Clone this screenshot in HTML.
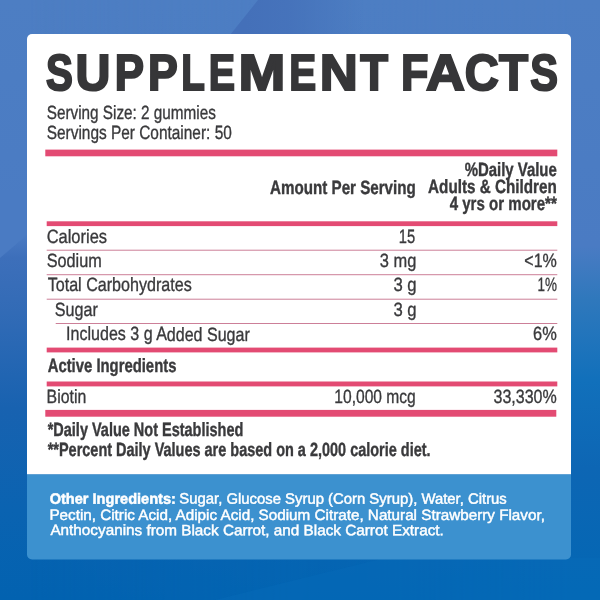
<!DOCTYPE html>
<html lang="en"><head><meta charset="utf-8"><title>Supplement Facts</title>
<style>
html,body{margin:0;padding:0;width:600px;height:600px;overflow:hidden;background:#2a6cbd}
svg{display:block;font-family:"Liberation Sans", Arial, sans-serif;text-rendering:geometricPrecision}
</style></head><body>
<svg width="600" height="600" viewBox="0 0 600 600">
<defs>
<linearGradient id="bgL" x1="0" y1="0" x2="0" y2="1">
<stop offset="0" stop-color="#4d7ec3"/><stop offset="0.39" stop-color="#4a7bc3"/><stop offset="0.43" stop-color="#3d6fba"/><stop offset="0.52" stop-color="#326bb6"/><stop offset="0.68" stop-color="#1862b0"/><stop offset="0.85" stop-color="#0a63b1"/><stop offset="1" stop-color="#0262b0"/>
</linearGradient>
<linearGradient id="bgR" x1="0" y1="0" x2="0" y2="1">
<stop offset="0" stop-color="#4d7ec3"/><stop offset="0.41" stop-color="#4a7bc3"/><stop offset="0.5" stop-color="#2f78bc"/><stop offset="0.635" stop-color="#1170bb"/><stop offset="0.78" stop-color="#0d66b4"/><stop offset="1" stop-color="#0267b4"/>
</linearGradient>
<linearGradient id="tp" gradientUnits="userSpaceOnUse" x1="245" y1="0" x2="365" y2="0"><stop offset="0" stop-color="#4470b9" stop-opacity="1"/><stop offset="0.4" stop-color="#4470b9" stop-opacity="0.75"/><stop offset="1" stop-color="#4470b9" stop-opacity="0"/></linearGradient>
<linearGradient id="mh" x1="0" y1="0" x2="1" y2="0"><stop offset="0.05" stop-color="#000"/><stop offset="0.95" stop-color="#fff"/></linearGradient>
<mask id="mr"><rect width="600" height="600" fill="url(#mh)"/></mask>
</defs>
<rect width="600" height="600" fill="url(#bgL)"/><rect width="600" height="600" fill="url(#bgR)" mask="url(#mr)"/>
<path d="M0 190H60V207L0 258z" fill="#4a7bc3"/><path d="M258 0L230 35H365L393 0z" fill="url(#tp)"/><path d="M215 600L385 558H600V600z" fill="#0a6cba" opacity="0.35"/>
<path d="M32 34H566a5 5 0 0 1 5 5V474.5H27V39a5 5 0 0 1 5-5z" fill="#fff"/>
<path d="M27 474.5H571V554.5a5 5 0 0 1-5 5H32a5 5 0 0 1-5-5z" fill="#3c91cf"/>
<rect x="45.3" y="149.6" width="512.0" height="6.7" fill="#e34b73"/>
<rect x="46.7" y="221.3" width="510.6" height="4.8" fill="#e34b73"/>
<rect x="46.7" y="347.6" width="510.6" height="4.8" fill="#e34b73"/>
<rect x="46.7" y="381.5" width="510.6" height="4.9" fill="#e34b73"/>
<rect x="45.3" y="409.9" width="511.0" height="6.8" fill="#e34b73"/>
<rect x="46.7" y="249.7" width="510.6" height="1" fill="#cc7f98"/>
<rect x="46.7" y="274.2" width="510.6" height="1" fill="#cc7f98"/>
<rect x="46.7" y="298.7" width="510.6" height="1" fill="#cc7f98"/>
<rect x="55.7" y="323.0" width="501.6" height="1" fill="#cc7f98"/>
<text x="46.70" y="119" font-size="19.2" fill="#3a3a3c" textLength="169.24" lengthAdjust="spacingAndGlyphs" transform="rotate(0.03 132 119)" stroke="#3a3a3c" stroke-width="0.35">Serving Size: 2 gummies</text>
<text x="46.70" y="138.8" font-size="19.2" fill="#3a3a3c" textLength="185.10" lengthAdjust="spacingAndGlyphs" transform="rotate(0.03 140 138.8)" stroke="#3a3a3c" stroke-width="0.35">Servings Per Container: 50</text>
<text x="270.10" y="194" font-size="19.2" fill="#3a3a3c" textLength="145.65" lengthAdjust="spacingAndGlyphs" transform="rotate(0.03 343 194)" font-weight="700" stroke="#3a3a3c" stroke-width="0.4">Amount Per Serving</text>
<text x="464.70" y="176.2" font-size="19.2" fill="#3a3a3c" textLength="92.09" lengthAdjust="spacingAndGlyphs" transform="rotate(0.03 511 176.2)" font-weight="700" stroke="#3a3a3c" stroke-width="0.4">%Daily Value</text>
<text x="428.10" y="193.4" font-size="19.2" fill="#3a3a3c" textLength="128.70" lengthAdjust="spacingAndGlyphs" transform="rotate(0.03 493 193.4)" font-weight="700" stroke="#3a3a3c" stroke-width="0.4">Adults &amp; Children</text>
<text x="449.70" y="210.3" font-size="19.2" fill="#3a3a3c" textLength="107.10" lengthAdjust="spacingAndGlyphs" transform="rotate(0.03 503 210.3)" font-weight="700" stroke="#3a3a3c" stroke-width="0.4">4 yrs or more**</text>
<text x="46.63" y="242.8" font-size="19.2" fill="#3a3a3c" textLength="60.42" lengthAdjust="spacingAndGlyphs" transform="rotate(0.03 77 242.8)" stroke="#3a3a3c" stroke-width="0.35">Calories</text>
<text x="46.66" y="266.9" font-size="19.2" fill="#3a3a3c" textLength="55.10" lengthAdjust="spacingAndGlyphs" transform="rotate(0.03 75 266.9)" stroke="#3a3a3c" stroke-width="0.35">Sodium</text>
<text x="47.70" y="291.3" font-size="19.2" fill="#3a3a3c" textLength="144.04" lengthAdjust="spacingAndGlyphs" transform="rotate(0.03 120 291.3)" stroke="#3a3a3c" stroke-width="0.35">Total Carbohydrates</text>
<text x="54.82" y="315.8" font-size="19.2" fill="#3a3a3c" textLength="42.99" lengthAdjust="spacingAndGlyphs" transform="rotate(0.03 77 315.8)" stroke="#3a3a3c" stroke-width="0.35">Sugar</text>
<text x="66.10" y="340.5" font-size="19.2" fill="#3a3a3c" textLength="183.70" lengthAdjust="spacingAndGlyphs" transform="rotate(0.03 158 340.5)" stroke="#3a3a3c" stroke-width="0.35">Includes 3 g Added Sugar</text>
<text x="398.78" y="242.8" font-size="19.2" fill="#3a3a3c" textLength="16.36" lengthAdjust="spacingAndGlyphs" transform="rotate(0.03 408 242.8)" stroke="#3a3a3c" stroke-width="0.35">15</text>
<text x="379.86" y="266.9" font-size="19.2" fill="#3a3a3c" textLength="36.57" lengthAdjust="spacingAndGlyphs" transform="rotate(0.03 398 266.9)" stroke="#3a3a3c" stroke-width="0.35">3 mg</text>
<text x="393.40" y="291.3" font-size="19.2" fill="#3a3a3c" textLength="23.25" lengthAdjust="spacingAndGlyphs" transform="rotate(0.03 405 291.3)" stroke="#3a3a3c" stroke-width="0.35">3 g</text>
<text x="393.40" y="315.8" font-size="19.2" fill="#3a3a3c" textLength="23.25" lengthAdjust="spacingAndGlyphs" transform="rotate(0.03 405 315.8)" stroke="#3a3a3c" stroke-width="0.35">3 g</text>
<text x="524.26" y="266.9" font-size="19.2" fill="#3a3a3c" textLength="32.58" lengthAdjust="spacingAndGlyphs" transform="rotate(0.03 541 266.9)" stroke="#3a3a3c" stroke-width="0.35">&lt;1%</text>
<text x="537.44" y="291.3" font-size="19.2" fill="#3a3a3c" textLength="19.41" lengthAdjust="spacingAndGlyphs" transform="rotate(0.03 547 291.3)" stroke="#3a3a3c" stroke-width="0.35">1%</text>
<text x="533.10" y="340.5" font-size="19.2" fill="#3a3a3c" textLength="23.69" lengthAdjust="spacingAndGlyphs" transform="rotate(0.03 545 340.5)" stroke="#3a3a3c" stroke-width="0.35">6%</text>
<text x="47.69" y="371.7" font-size="19.2" fill="#3a3a3c" textLength="128.72" lengthAdjust="spacingAndGlyphs" transform="rotate(0.03 112 371.7)" font-weight="700" stroke="#3a3a3c" stroke-width="0.4">Active Ingredients</text>
<text x="46.58" y="403" font-size="19.2" fill="#3a3a3c" textLength="39.66" lengthAdjust="spacingAndGlyphs" transform="rotate(0.03 67 403)" stroke="#3a3a3c" stroke-width="0.35">Biotin</text>
<text x="334.32" y="403" font-size="19.2" fill="#3a3a3c" textLength="81.46" lengthAdjust="spacingAndGlyphs" transform="rotate(0.03 375 403)" stroke="#3a3a3c" stroke-width="0.35">10,000 mcg</text>
<text x="493.53" y="403" font-size="19.2" fill="#3a3a3c" textLength="63.19" lengthAdjust="spacingAndGlyphs" transform="rotate(0.03 525 403)" stroke="#3a3a3c" stroke-width="0.35">33,330%</text>
<text x="47.70" y="436.2" font-size="19.2" fill="#3a3a3c" textLength="195.60" lengthAdjust="spacingAndGlyphs" transform="rotate(0.03 145 436.2)" font-weight="700" stroke="#3a3a3c" stroke-width="0.4">*Daily Value Not Established</text>
<text x="47.70" y="456.2" font-size="19.2" fill="#3a3a3c" textLength="382.90" lengthAdjust="spacingAndGlyphs" transform="rotate(0.03 239 456.2)" font-weight="700" stroke="#3a3a3c" stroke-width="0.4">**Percent Daily Values are based on a 2,000 calorie diet.</text>
<text x="49.70" y="503.7" font-size="15" fill="#fff" textLength="126.19" lengthAdjust="spacingAndGlyphs" transform="rotate(0.03 112 503.7)" font-weight="700" stroke="#fff" stroke-width="0.5">Other Ingredients:</text>
<text x="179.30" y="503.7" font-size="15" fill="#fff" textLength="327.50" lengthAdjust="spacingAndGlyphs" transform="rotate(0.03 343 503.7)" stroke="#fff" stroke-width="0.45">Sugar, Glucose Syrup (Corn Syrup), Water, Citrus</text>
<text x="49.40" y="520" font-size="15" fill="#fff" textLength="495.50" lengthAdjust="spacingAndGlyphs" transform="rotate(0.03 297 520)" stroke="#fff" stroke-width="0.45">Pectin, Citric Acid, Adipic Acid, Sodium Citrate, Natural Strawberry Flavor,</text>
<text x="50.40" y="535.2" font-size="15" fill="#fff" textLength="393.40" lengthAdjust="spacingAndGlyphs" transform="rotate(0.03 246 535.2)" stroke="#fff" stroke-width="0.45">Anthocyanins from Black Carrot, and Black Carrot Extract.</text>
<text aria-label="SUPPLEMENT FACTS" transform="rotate(0.03 301 90)" y="90" font-size="50.7" font-weight="700" fill="#363638" stroke="#363638" stroke-width="2.1" stroke-linejoin="miter"><tspan x="46.10" textLength="26.83" lengthAdjust="spacingAndGlyphs">S</tspan><tspan x="75.54" textLength="34.89" lengthAdjust="spacingAndGlyphs">U</tspan><tspan x="114.66" textLength="29.22" lengthAdjust="spacingAndGlyphs">P</tspan><tspan x="148.10" textLength="29.72" lengthAdjust="spacingAndGlyphs">P</tspan><tspan x="181.16" textLength="23.61" lengthAdjust="spacingAndGlyphs">L</tspan><tspan x="208.64" textLength="26.26" lengthAdjust="spacingAndGlyphs">E</tspan><tspan x="238.56" textLength="46.87" lengthAdjust="spacingAndGlyphs">M</tspan><tspan x="289.37" textLength="26.92" lengthAdjust="spacingAndGlyphs">E</tspan><tspan x="319.73" textLength="38.04" lengthAdjust="spacingAndGlyphs">N</tspan><tspan x="360.21" textLength="27.73" lengthAdjust="spacingAndGlyphs">T</tspan> <tspan x="401.02" textLength="27.40" lengthAdjust="spacingAndGlyphs">F</tspan><tspan x="426.05" textLength="38.85" lengthAdjust="spacingAndGlyphs">A</tspan><tspan x="464.83" textLength="34.03" lengthAdjust="spacingAndGlyphs">C</tspan><tspan x="498.93" textLength="29.05" lengthAdjust="spacingAndGlyphs">T</tspan><tspan x="530.19" textLength="27.69" lengthAdjust="spacingAndGlyphs">S</tspan></text>
</svg>
</body></html>
